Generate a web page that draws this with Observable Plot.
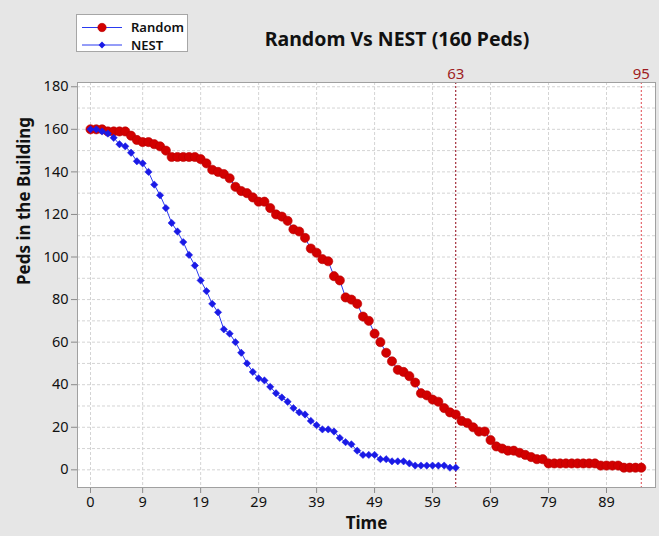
<!DOCTYPE html>
<html>
<head>
<meta charset="utf-8">
<script src="https://cdn.jsdelivr.net/npm/d3@7"></script>
<script src="https://cdn.jsdelivr.net/npm/@observablehq/plot@0.6"></script>
<style>
  html, body { margin: 0; padding: 0; background: #e6e6e6; }
  #wrap { position: relative; width: 659px; height: 536px; background: #e6e6e6; overflow: hidden;
          font-family: "Noto Sans", "Open Sans", "DejaVu Sans", sans-serif; }
  #chart { position: absolute; left: 0; top: 0; }
  #title { position: absolute; left: 397px; top: 29px; transform: translateX(-50%); white-space: nowrap;
           font-size: 19.5px; line-height: 19px; font-weight: 700; color: #111; }
  #legend { position: absolute; left: 0; top: 0; }
</style>
</head>
<body>
<div id="wrap">
  <div id="chart"></div>
  <div id="title">Random Vs NEST (160 Peds)</div>
  <svg id="legend" width="200" height="60"></svg>
</div>
<script>
// ---- data ----
const seriesNames = ["Random", "NEST"];
// Peds in the building at Time = 0, 1, 2, ... (index = time)
const randomPeds = [
  160,160,160,159,159,159,159,
  157,155,154,154,153,152,150,147,
  147,147,147,147,146,144,
  141,140,139,137,133,131,130,128,126,126,
  123,120,119,117,113,112,109,104,102,99,
  98,91,89,81,80,78,72,70,64,60,
  55,51,47,46,44,41,36,35,33,32,
  29,27,26,23,22,20,18,18,14,11,
  10,9,9,8,7,6,5,5,3,3,
  3,3,3,3,3,3,3,2,2,2,
  2,1,1,1,1
];
const nestPeds = [
  160,160,159,158,156,153,152,149,145,144,
  140,134,129,123,116,112,107,101,96,89,
  84,78,74,66,64,60,55,50,46,43,
  42,39,36,34,32,29,27,26,23,21,
  19,19,18,15,13,12,9,7,7,7,
  5,5,4,4,4,3,2,2,2,2,
  2,2,1,1
];
const xTicks = [0, 9, 19, 29, 39, 49, 59, 69, 79, 89];
const yTicks = [0, 20, 40, 60, 80, 100, 120, 140, 160, 180];
const yGrid = [0, 10, 20, 30, 40, 50, 60, 70, 80, 90, 100, 110, 120, 130, 140, 150, 160, 170, 180];
const markerTimes = [63, 95];
const markerColors = ["#8e0010", "#e04850"];
const xLabel = "Time";
const yLabel = "Peds in the Building";

// ---- table for Plot ----
const randomRows = randomPeds.map((v, i) => ({t: i, peds: v, series: seriesNames[0]}));
const nestRows = nestPeds.map((v, i) => ({t: i, peds: v, series: seriesNames[1]}));
const markerRows = markerTimes.map((t, i) => ({t, color: markerColors[i], label: String(t)}));

const RED = "#d20000";
const BLUE = "#1a1ae6";
const LINEBLUE = "#2a3af0";
const FONT = '"Noto Sans", "Open Sans", "DejaVu Sans", sans-serif';

const chart = Plot.plot({
  width: 659,
  height: 536,
  marginLeft: 77,
  marginRight: 4,
  marginTop: 82,
  marginBottom: 49,
  style: {background: "transparent", fontFamily: FONT, fontSize: "14px", color: "#111", overflow: "visible"},
  x: {domain: [-2.24, 97.45], label: null},
  y: {domain: [-8.3, 182], label: null},
  marks: [
    Plot.frame({fill: "white", stroke: "none"}),
    Plot.gridX(xTicks, {stroke: "#d4d4d4", strokeOpacity: 1, strokeDasharray: "3,2"}),
    Plot.gridY(yGrid, {stroke: "#d4d4d4", strokeOpacity: 1, strokeDasharray: "3,2"}),
    Plot.ruleX(markerRows, {x: "t", stroke: "color", strokeDasharray: "2,2", strokeWidth: 1}),
    Plot.axisX(xTicks, {tickSize: 6, tickPadding: 3, stroke: "#8a8a8a", fill: "#111", fontSize: 14.5, label: null}),
    Plot.axisY(yTicks, {tickSize: 6, tickPadding: 3, stroke: "#8a8a8a", fill: "#111", fontSize: 14.5, label: null}),
    Plot.frame({stroke: "#a0a0a0", strokeWidth: 1}),
    Plot.line(randomRows, {x: "t", y: "peds", stroke: LINEBLUE, strokeWidth: 1}),
    Plot.dot(randomRows, {x: "t", y: "peds", r: 4.6, fill: RED, stroke: "#b80000", strokeWidth: 0.6}),
    Plot.line(nestRows, {x: "t", y: "peds", stroke: LINEBLUE, strokeWidth: 1}),
    Plot.dot(nestRows, {x: "t", y: "peds", symbol: "diamond2", r: 3.3, fill: BLUE, stroke: BLUE, strokeWidth: 0.5}),
    Plot.text(markerRows, {x: "t", text: "label", frameAnchor: "top", dy: -14, fill: "#9e1c22", fontSize: 15}),
    Plot.text([xLabel], {frameAnchor: "bottom", dy: 41, fontSize: 17, fontWeight: "bold", fill: "#111"}),
    Plot.text([yLabel], {frameAnchor: "left", dx: -53, rotate: -90, fontSize: 17, fontWeight: "bold", fill: "#111"})
  ]
});
document.getElementById("chart").appendChild(chart);

// ---- legend ----
const lg = d3.select("#legend");
lg.append("rect").attr("x", 76.5).attr("y", 14.5).attr("width", 111).attr("height", 37)
  .attr("fill", "white").attr("stroke", "#a6a6a6");
const rowsY = [27.5, 45];
seriesNames.forEach((name, i) => {
  const y = rowsY[i];
  lg.append("line").attr("x1", 82).attr("x2", 122).attr("y1", y).attr("y2", y)
    .attr("stroke", LINEBLUE).attr("stroke-width", 1);
  if (i === 0) {
    lg.append("circle").attr("cx", 102).attr("cy", y).attr("r", 4.2).attr("fill", RED).attr("stroke", "#b80000").attr("stroke-width", 0.6);
  } else {
    lg.append("path").attr("transform", `translate(102,${y})`)
      .attr("d", d3.symbol(d3.symbolDiamond2, 30)()).attr("fill", BLUE);
  }
  lg.append("text").attr("x", 131).attr("y", y + 4.5).text(name)
    .attr("font-family", FONT).attr("font-size", 13).attr("font-weight", 600).attr("fill", "#111");
});
</script>
</body>
</html>
